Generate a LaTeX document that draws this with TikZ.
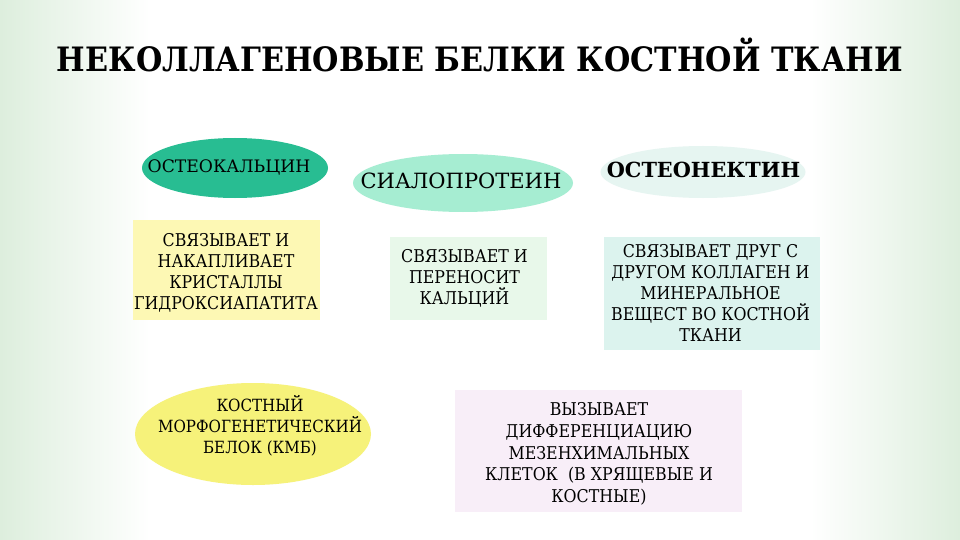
\documentclass[tikz,border=0pt]{standalone}
\usepackage{fontspec}
\setmainfont{DejaVu Serif Condensed}
\newfontfamily\widefont{DejaVu Serif}
\usetikzlibrary{shapes.geometric}
\definecolor{bgedge}{HTML}{DDEEDD}
\definecolor{ellA}{HTML}{28BD92}
\definecolor{ellB}{HTML}{A6EDD2}
\definecolor{ellC}{HTML}{E6F5F1}
\definecolor{boxA}{HTML}{FDF8B4}
\definecolor{boxB}{HTML}{E8F8EA}
\definecolor{boxC}{HTML}{DCF3EE}
\definecolor{ellD}{HTML}{F6F27A}
\definecolor{boxD}{HTML}{F8EEF8}
\begin{document}
\begin{tikzpicture}[x=1pt,y=-1pt,
  lbl/.style={align=center,font=\fontsize{17.6}{21}\selectfont,text=black,inner sep=0pt},
  captext/.style={anchor=base,inner sep=0pt,text=black},
  oval/.style={ellipse,draw=none,inner sep=0pt},
]
\useasboundingbox (0,0) rectangle (960,540);
% background
\fill[white] (0,0) rectangle (960,540);
\shade[left color=bgedge,right color=white] (0,0) rectangle (150,540);
\shade[left color=white,right color=bgedge] (810,0) rectangle (960,540);
% title
\node[captext,font=\fontsize{33.6}{40}\bfseries\selectfont] (title) at (480,72) {НЕКОЛЛАГЕНОВЫЕ БЕЛКИ КОСТНОЙ ТКАНИ};
% protein ellipses
\node[oval,fill=ellA,minimum width=186,minimum height=60] (e1) at (235,168) {};
\node[captext,font=\widefont\fontsize{17.2}{20}\selectfont] (t1) at (229,173) {ОСТЕОКАЛЬЦИН};
\node[oval,fill=ellB,minimum width=220,minimum height=58] (e2) at (463,183) {};
\node[captext,font=\widefont\fontsize{21}{24}\selectfont] (t2) at (461,189) {СИАЛОПРОТЕИН};
\node[oval,fill=ellC,minimum width=205,minimum height=52] (e3) at (703,172) {};
\node[captext,font=\widefont\fontsize{20.8}{24}\bfseries\selectfont] (t3) at (703.5,178) {ОСТЕОНЕКТИН};
% boxes
\fill[boxA] (133,220) rectangle (320,320);
\node[lbl] (b1) at (226,273) {СВЯЗЫВАЕТ И\\НАКАПЛИВАЕТ\\КРИСТАЛЛЫ\\ГИДРОКСИАПАТИТА};
\fill[boxB] (390,237) rectangle (547,320);
\node[lbl] (b2) at (464.5,278) {СВЯЗЫВАЕТ И\\ПЕРЕНОСИТ\\КАЛЬЦИЙ};
\fill[boxC] (604,237) rectangle (820,350);
\node[lbl] (b3) at (710.5,293) {СВЯЗЫВАЕТ ДРУГ С\\ДРУГОМ КОЛЛАГЕН И\\МИНЕРАЛЬНОЕ\\ВЕЩЕСТ ВО КОСТНОЙ\\ТКАНИ};
% bottom
\node[oval,fill=ellD,minimum width=236,minimum height=102] (e4) at (253,434) {};
\node[lbl,font=\fontsize{16.8}{21}\selectfont] (t4) at (260,426) {КОСТНЫЙ\\МОРФОГЕНЕТИЧЕСКИЙ\\БЕЛОК (КМБ)};
\fill[boxD] (455,390) rectangle (742,512);
\node[lbl,font=\fontsize{17.6}{21.7}\selectfont] (b4) at (599,454) {ВЫЗЫВАЕТ\\ДИФФЕРЕНЦИАЦИЮ\\МЕЗЕНХИМАЛЬНЫХ\\КЛЕТОК\ \ (В ХРЯЩЕВЫЕ И\\КОСТНЫЕ)};
\end{tikzpicture}
\end{document}
